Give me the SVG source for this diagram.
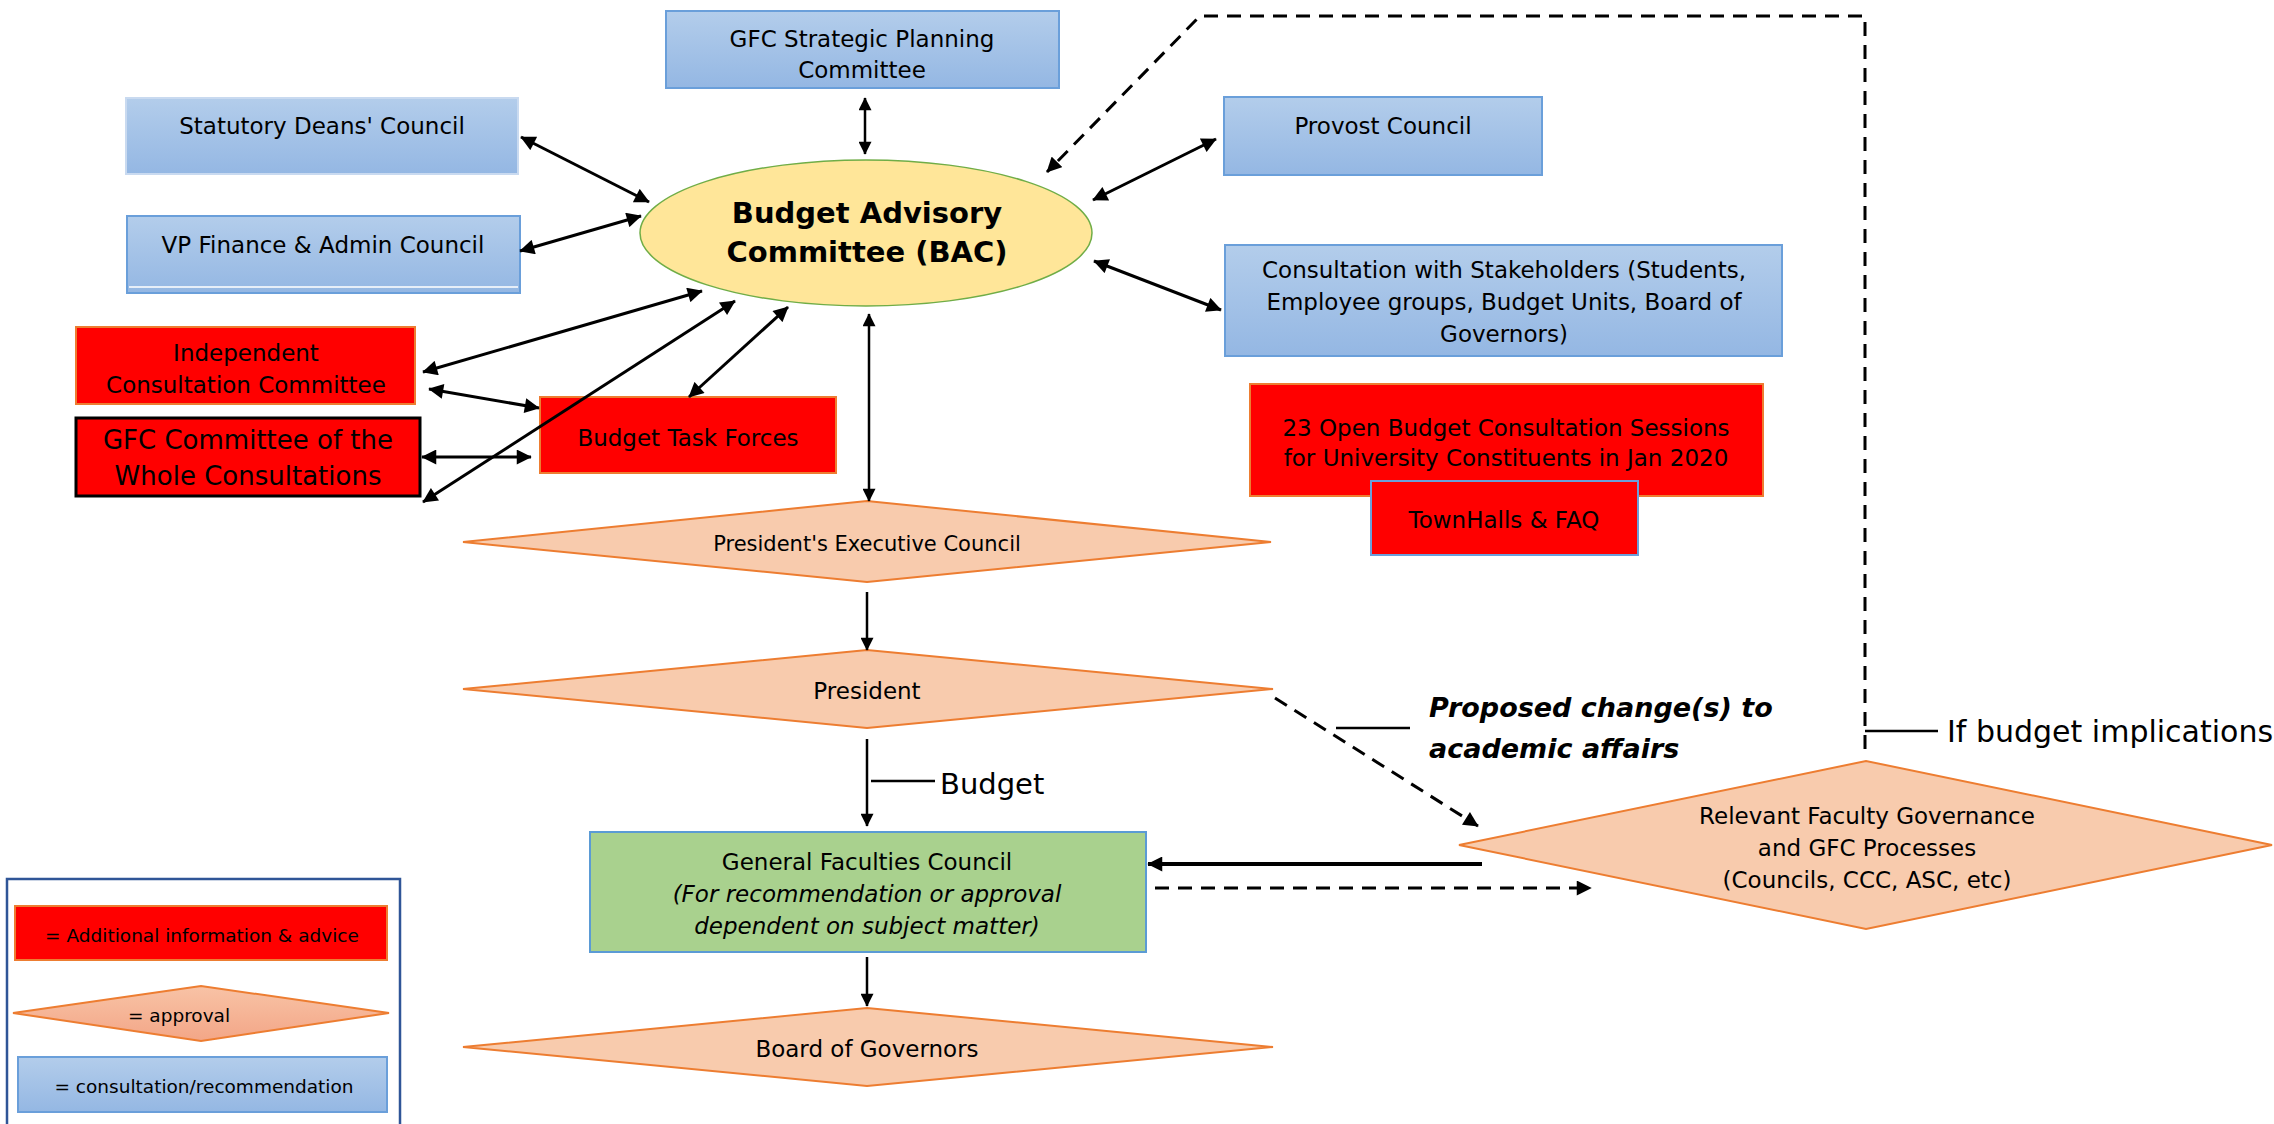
<svg xmlns="http://www.w3.org/2000/svg" width="2274" height="1124" viewBox="0 0 2274 1124">
<defs>
<linearGradient id="gBlue" x1="0" y1="0" x2="0" y2="1"><stop offset="0" stop-color="#B3CDEB"/><stop offset="1" stop-color="#94B7E3"/></linearGradient>
<linearGradient id="gSalmon" x1="0" y1="0" x2="0" y2="1"><stop offset="0" stop-color="#F8C3A6"/><stop offset="1" stop-color="#F3A687"/></linearGradient>
<marker id="ah" viewBox="0 0 10 10" refX="9.5" refY="5" markerWidth="16" markerHeight="15" markerUnits="userSpaceOnUse" orient="auto-start-reverse"><path d="M0,0 L10,5 L0,10 z" fill="#000"/></marker>
<marker id="ahs" viewBox="0 0 10 10" refX="9.5" refY="5" markerWidth="14" markerHeight="13" markerUnits="userSpaceOnUse" orient="auto-start-reverse"><path d="M0,0 L10,5 L0,10 z" fill="#000"/></marker>
<style>
text{font-family:"DejaVu Sans","Liberation Sans",sans-serif;fill:#000;font-size:23px;text-anchor:middle}
.blue{fill:url(#gBlue);stroke:#6A9FDA;stroke-width:2}
.red{fill:#FF0000;stroke:#ED7D31;stroke-width:2}
.dia{fill:#F8CBAD;stroke:#ED7D31;stroke-width:2}
.c{fill:none;stroke:#000;stroke-width:3}
.cs{fill:none;stroke:#000;stroke-width:2.5}
.d{fill:none;stroke:#000;stroke-width:3;stroke-dasharray:14 9}
.lead{stroke:#000;stroke-width:2.5}
.it{font-style:italic}
.bi{font-style:italic;font-weight:bold;font-size:27px;text-anchor:start}
.lg{font-size:18.5px}
</style>
</defs>
<rect width="2274" height="1124" fill="#fff"/>

<g id="gfc-spc"><rect class="blue" x="666" y="11" width="393" height="77"/><text x="862" y="47">GFC Strategic Planning</text><text x="862" y="78">Committee</text></g>
<g id="statutory"><rect class="blue" x="126" y="98" width="392" height="76" style="stroke:#C9DAF0"/><text x="322" y="134">Statutory Deans' Council</text></g>
<g id="vpfinance"><rect class="blue" x="127" y="216" width="393" height="77"/><line x1="129" y1="287" x2="518" y2="287" stroke="#E6EEF8" stroke-width="2"/><text x="323" y="253">VP Finance &amp; Admin Council</text></g>
<g id="bac"><ellipse cx="866" cy="233" rx="226" ry="73" fill="#FFE699" stroke="#70AD47" stroke-width="1.5"/><text x="867" y="223" style="font-weight:bold;font-size:29px">Budget Advisory</text><text x="867" y="262" style="font-weight:bold;font-size:29px">Committee (BAC)</text></g>
<g id="provost"><rect class="blue" x="1224" y="97" width="318" height="78"/><text x="1383" y="134">Provost Council</text></g>
<g id="stakeholders"><rect class="blue" x="1225" y="245" width="557" height="111"/><text x="1504" y="278">Consultation with Stakeholders (Students,</text><text x="1504" y="310">Employee groups, Budget Units, Board of</text><text x="1504" y="342">Governors)</text></g>
<g id="independent"><rect class="red" x="76" y="327" width="339" height="77"/><text x="246" y="361">Independent</text><text x="246" y="393">Consultation Committee</text></g>
<g id="gfc-whole"><rect x="76" y="418" width="344" height="78" fill="#FF0000" stroke="#000" stroke-width="3"/><text x="248" y="449" style="font-size:26px">GFC Committee of the</text><text x="248" y="485" style="font-size:26px">Whole Consultations</text></g>
<g id="task-forces"><rect class="red" x="540" y="397" width="296" height="76"/><text x="688" y="446">Budget Task Forces</text></g>
<g id="open-sessions"><rect class="red" x="1250" y="384" width="513" height="112"/><text x="1506" y="436">23 Open Budget Consultation Sessions</text><text x="1506" y="466">for University Constituents in Jan 2020</text></g>
<g id="townhalls"><rect x="1371" y="481" width="267" height="74" fill="#FF0000" stroke="#6A9FDA" stroke-width="2"/><text x="1504" y="528">TownHalls &amp; FAQ</text></g>
<g id="pec"><polygon class="dia" points="463,542 867,501 1271,542 867,582"/><text x="867" y="551" style="font-size:21px">President's Executive Council</text></g>
<g id="president"><polygon class="dia" points="463,689 867,650 1273,689 867,728"/><text x="867" y="699">President</text></g>
<g id="gfc"><rect x="590" y="832" width="556" height="120" fill="#A9D18E" stroke="#5B9BD5" stroke-width="2"/><text x="867" y="870">General Faculties Council</text><text class="it" x="867" y="902">(For recommendation or approval</text><text class="it" x="867" y="934">dependent on subject matter)</text></g>
<g id="bog"><polygon class="dia" points="463,1047 867,1008 1273,1047 867,1086"/><text x="867" y="1057">Board of Governors</text></g>
<g id="relevant"><polygon class="dia" points="1459,845 1866,761 2272,845 1866,929"/><text x="1867" y="824">Relevant Faculty Governance</text><text x="1867" y="856">and GFC Processes</text><text x="1867" y="888">(Councils, CCC, ASC, etc)</text></g>
<g id="legend"><rect x="7" y="879" width="393" height="260" fill="#fff" stroke="#2F5597" stroke-width="2.5"/><rect class="red" x="15" y="906" width="372" height="54"/><text class="lg" x="202" y="942">= Additional information &amp; advice</text><polygon points="13,1013 201,986 389,1013 201,1041" fill="url(#gSalmon)" stroke="#ED7D31" stroke-width="2"/><text class="lg" x="179" y="1022">= approval</text><rect class="blue" x="18" y="1057" width="369" height="55"/><text class="lg" x="204" y="1093">= consultation/recommendation</text></g>

<g id="labels"><line class="lead" x1="871" y1="781" x2="935" y2="781"/><text x="940" y="794" style="font-size:29px;text-anchor:start">Budget</text><line class="lead" x1="1336" y1="728" x2="1410" y2="728"/><text class="bi" x="1429" y="717">Proposed change(s) to</text><text class="bi" x="1429" y="758">academic affairs</text><line class="lead" x1="1865" y1="731" x2="1938" y2="731"/><text x="1947" y="742" style="font-size:30px;text-anchor:start">If budget implications</text></g>

<g id="connectors">
<line class="cs" x1="865" y1="98" x2="865" y2="154" marker-start="url(#ahs)" marker-end="url(#ahs)"/>
<line class="c" x1="521" y1="137" x2="649" y2="202" marker-start="url(#ah)" marker-end="url(#ah)"/>
<line class="c" x1="520" y1="251" x2="641" y2="216" marker-start="url(#ah)" marker-end="url(#ah)"/>
<line class="c" x1="1093" y1="200" x2="1216" y2="139" marker-start="url(#ah)" marker-end="url(#ah)"/>
<line class="c" x1="1094" y1="261" x2="1221" y2="310" marker-start="url(#ah)" marker-end="url(#ah)"/>
<line class="c" x1="423" y1="372" x2="702" y2="291" marker-start="url(#ah)" marker-end="url(#ah)"/>
<line class="c" x1="429" y1="389" x2="539" y2="408" marker-start="url(#ah)" marker-end="url(#ah)"/>
<line class="c" x1="422" y1="457" x2="531" y2="457" marker-start="url(#ah)" marker-end="url(#ah)"/>
<line class="c" x1="423" y1="502" x2="735" y2="301" marker-start="url(#ah)" marker-end="url(#ah)"/>
<line class="c" x1="689" y1="397" x2="788" y2="307" marker-start="url(#ah)" marker-end="url(#ah)"/>
<line class="cs" x1="869" y1="314" x2="869" y2="501" marker-start="url(#ahs)" marker-end="url(#ahs)"/>
<line class="cs" x1="867" y1="592" x2="867" y2="650" marker-end="url(#ahs)"/>
<line class="cs" x1="867" y1="739" x2="867" y2="826" marker-end="url(#ahs)"/>
<line class="cs" x1="867" y1="957" x2="867" y2="1006" marker-end="url(#ahs)"/>
<line class="c" x1="1482" y1="864" x2="1148" y2="864" style="stroke-width:4" marker-end="url(#ah)"/>
<line class="d" x1="1155" y1="888" x2="1591" y2="888" marker-end="url(#ah)"/>
<line class="d" x1="1275" y1="698" x2="1478" y2="826" marker-end="url(#ah)"/>
<polyline class="d" points="1865,749 1865,16 1200,16 1047,172" marker-end="url(#ah)"/>
</g>
</svg>
